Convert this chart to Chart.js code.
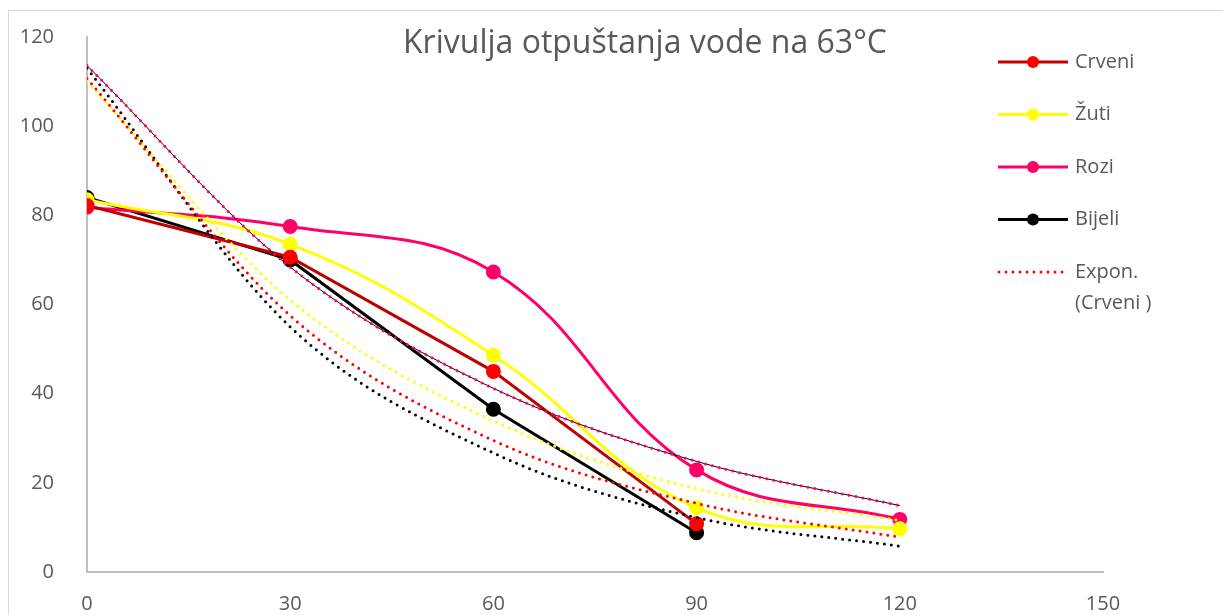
<!DOCTYPE html>
<html>
<head>
<meta charset="utf-8">
<script src="https://cdn.jsdelivr.net/npm/chart.js@4.4.0/dist/chart.umd.min.js"></script>
<style>
  body { margin: 0; background: #fff; }
  #wrap { width: 1223px; height: 615px; position: relative; }
</style>
</head>
<body>
<div id="wrap"><canvas id="graf"></canvas></div>
<script>
  'use strict';
  // vrijeme u minutama
  const vrijeme = [0, 30, 60, 90, 120];
  const crveni = [82.2, 70.6, 45, 10.8, null];
  const zuti = [83.5, 73.5, 48.6, 14.4, 9.7];
  const rozi = [81.8, 77.5, 67.3, 22.9, 11.8];
  const bijeli = [84, 70, 36.5, 8.8, null];
  // eksponencijalni trendovi, ocitani sa slike
  const trendCrveni = [110.7, 57.5, 29.5, 15.4, 7.8];
  const trendZuti = [110, 61, 33.9, 18.7, 11.6];
  const trendRozi = [113.6, 68.4, 41.2, 24.8, 14.9];
  const trendBijeli = [113, 55, 26.7, 12.2, 5.8];
  const xTicks = [0, 30, 60, 90, 120, 150];
  const yTicks = [0, 20, 40, 60, 80, 100, 120];
  const naslov = 'Krivulja otpuštanja vode na 63°C';

  const siva = '#595959';
  const font = '"Open Sans", "Noto Sans", sans-serif';

  function tocke(vals) {
    let out = [];
    for (let i = 0; i < vals.length; i++) {
      if (vals[i] !== null) out.push({ x: vrijeme[i], y: vals[i] });
    }
    return out;
  }

  function trend(label, vals, color) {
    return {
      label: label,
      data: tocke(vals),
      borderColor: color,
      borderWidth: 3,
      borderDash: [0, 7],
      borderCapStyle: 'round',
      pointRadius: 0,
      cubicInterpolationMode: 'monotone',
      fill: false
    };
  }

  function serija(label, vals, line, marker, tension) {
    return {
      label: label,
      data: tocke(vals),
      borderColor: line,
      borderWidth: 3,
      pointRadius: 6,
      pointBackgroundColor: marker,
      pointBorderColor: marker,
      tension: tension,
      fill: false
    };
  }

  const datasets = [
    trend('Expon. (Crveni )', trendCrveni, '#FF0000'),
    trend('Expon. (Žuti)', trendZuti, '#FFFF00'),
    trend('Expon. (Rozi)', trendRozi, '#FF0066'),
    trend('Expon. (Bijeli)', trendBijeli, '#000000'),
    {
      label: 'trend linija',
      data: tocke(trendRozi),
      borderColor: '#000000',
      borderWidth: 1,
      pointRadius: 0,
      cubicInterpolationMode: 'monotone',
      fill: false
    },
    serija('Crveni', crveni, '#C00000', '#FF0000', 0),
    serija('Žuti', zuti, '#FFFF00', '#FFFF00', 0.4),
    serija('Rozi', rozi, '#FF0066', '#FF0066', 0.4),
    serija('Bijeli', bijeli, '#000000', '#000000', 0)
  ];

  // legenda kao u excelu
  const legenda = [
    { text: ['Crveni'], line: '#C00000', marker: '#FF0000' },
    { text: ['Žuti'], line: '#FFFF00', marker: '#FFFF00' },
    { text: ['Rozi'], line: '#FF0066', marker: '#FF0066' },
    { text: ['Bijeli'], line: '#000000', marker: '#000000' },
    { text: ['Expon.', '(Crveni )'], line: '#FF0000', marker: null }
  ];

  const okvir = {
    id: 'okvir',
    beforeDraw(chart) {
      const ctx = chart.ctx;
      ctx.save();
      ctx.fillStyle = '#fff';
      ctx.fillRect(0, 0, chart.width, chart.height);
      ctx.strokeStyle = '#D9D9D9';
      ctx.lineWidth = 1;
      ctx.strokeRect(8.5, 10.5, chart.width, chart.height);
      ctx.restore();
    },
    afterDraw(chart) {
      const ctx = chart.ctx;
      ctx.save();
      ctx.fillStyle = siva;
      ctx.font = '32px ' + font;
      ctx.textAlign = 'center';
      ctx.textBaseline = 'middle';
      ctx.fillText(naslov, 645, 44);

      ctx.font = '20px ' + font;
      ctx.textAlign = 'left';
      let y = 62;
      legenda.forEach(function (l) {
        ctx.strokeStyle = l.line;
        ctx.lineWidth = 3;
        if (l.marker) {
          ctx.beginPath();
          ctx.moveTo(998, y);
          ctx.lineTo(1068, y);
          ctx.stroke();
          ctx.fillStyle = l.marker;
          ctx.beginPath();
          ctx.arc(1033, y, 6, 0, Math.PI * 2);
          ctx.fill();
        } else {
          ctx.setLineDash([0, 7]);
          ctx.lineCap = 'round';
          ctx.beginPath();
          ctx.moveTo(999, y);
          ctx.lineTo(1066, y);
          ctx.stroke();
          ctx.setLineDash([]);
          ctx.lineCap = 'butt';
        }
        ctx.fillStyle = siva;
        l.text.forEach(function (t, i) {
          ctx.fillText(t, 1075, y + i * 31);
        });
        y += 52.5;
      });
      ctx.restore();
    }
  };

  new Chart(document.getElementById('graf'), {
    type: 'line',
    data: { datasets: datasets },
    plugins: [okvir],
    options: {
      responsive: true,
      maintainAspectRatio: false,
      animation: false,
      layout: { padding: { left: 0, top: 32, right: 120, bottom: 0 } },
      plugins: {
        legend: { display: false },
        tooltip: { enabled: false },
        title: { display: false }
      },
      scales: {
        x: {
          type: 'linear',
          min: 0,
          max: 150,
          afterBuildTicks: function (s) { s.ticks = xTicks.map(function (v) { return { value: v }; }); },
          afterFit: function (s) { s.height = 43; },
          grid: { display: false },
          border: { display: true, color: '#BFBFBF', width: 2 },
          ticks: { color: siva, font: { family: font, size: 20 }, padding: 12, maxRotation: 0 }
        },
        y: {
          min: 0,
          max: 120,
          afterBuildTicks: function (s) { s.ticks = yTicks.map(function (v) { return { value: v }; }); },
          afterFit: function (s) { s.width = 87; },
          grid: { display: false },
          border: { display: true, color: '#BFBFBF', width: 2 },
          ticks: { color: siva, font: { family: font, size: 20 }, padding: 25 }
        }
      }
    }
  });
</script>
</body>
</html>
